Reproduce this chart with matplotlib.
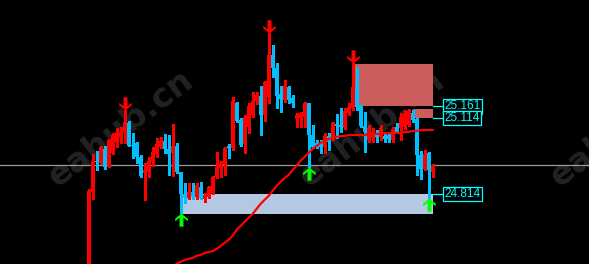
import numpy as np
import matplotlib
matplotlib.use("Agg")
import matplotlib.pyplot as plt
from matplotlib.patches import Rectangle
from matplotlib.path import Path

# OHLC (one bar every 4 px)
opens = [24.435, 24.822, 24.945, 24.937, 24.992, 24.921, 24.976, 25.020, 25.039, 25.059,
         25.095, 25.008, 25.016, 24.960, 24.897, 24.901, 24.941, 24.972, 25.000, 25.023,
         24.992, 24.976, 25.004, 24.901, 24.814, 24.799, 24.822, 24.802, 24.842, 24.795,
         24.802, 24.818, 24.881, 24.917, 24.929, 25.004, 24.996, 25.173, 25.106, 25.012,
         25.079, 25.126, 25.181, 25.201, 25.126, 25.197, 25.363, 25.312, 25.209, 25.185,
         25.237, 25.193, 25.110, 25.114, 25.118, 25.173, 25.047, 25.016, 25.012, 25.000,
         25.043, 25.035, 25.091, 25.087, 25.075, 25.134, 25.154, 25.237, 25.162, 25.083,
         25.027, 25.035, 25.047, 25.039, 25.043, 25.047, 25.027, 25.079, 25.075, 25.079,
         25.087, 25.134, 25.110, 24.968, 24.913, 24.976, 24.901]
highs = [24.834, 24.972, 24.984, 25.004, 25.004, 25.031, 25.055, 25.075, 25.079, 25.146,
         25.102, 25.055, 25.020, 24.968, 24.937, 24.960, 25.000, 25.035, 25.039, 25.051,
         25.047, 25.091, 25.016, 24.901, 24.858, 24.858, 24.858, 24.858, 24.862, 24.818,
         24.846, 24.885, 24.980, 24.945, 25.000, 25.012, 25.197, 25.177, 25.114, 25.126,
         25.173, 25.217, 25.217, 25.241, 25.260, 25.450, 25.402, 25.331, 25.241, 25.264,
         25.241, 25.205, 25.134, 25.138, 25.177, 25.173, 25.087, 25.027, 25.027, 25.055,
         25.055, 25.098, 25.130, 25.154, 25.154, 25.173, 25.331, 25.316, 25.166, 25.138,
         25.087, 25.075, 25.067, 25.087, 25.055, 25.055, 25.079, 25.095, 25.134, 25.146,
         25.150, 25.146, 25.114, 24.984, 24.988, 24.980, 24.933]
lows = [24.416, 24.795, 24.909, 24.933, 24.913, 24.921, 24.972, 25.000, 25.016, 25.016,
        25.004, 24.956, 24.937, 24.881, 24.791, 24.881, 24.925, 24.960, 24.996, 24.976,
        24.889, 24.885, 24.897, 24.739, 24.779, 24.795, 24.795, 24.795, 24.795, 24.783,
        24.799, 24.814, 24.877, 24.881, 24.889, 24.956, 24.988, 25.098, 25.004, 24.976,
        25.055, 25.118, 25.170, 25.047, 25.102, 25.173, 25.276, 25.154, 25.138, 25.177,
        25.173, 25.158, 25.079, 25.079, 25.079, 24.921, 24.996, 24.996, 24.976, 24.976,
        24.988, 25.027, 25.035, 25.059, 25.071, 25.126, 25.146, 25.146, 25.079, 24.980,
        25.020, 25.020, 25.020, 25.027, 25.020, 25.020, 25.020, 25.055, 25.027, 25.071,
        25.083, 25.098, 24.889, 24.873, 24.909, 24.799, 24.881]
closes = [24.826, 24.945, 24.941, 25.000, 24.921, 25.027, 25.047, 25.059, 25.059, 25.098,
          25.004, 25.004, 24.960, 24.885, 24.909, 24.945, 24.980, 25.012, 25.023, 24.992,
          24.972, 25.004, 24.901, 24.814, 24.799, 24.822, 24.802, 24.850, 24.799, 24.810,
          24.842, 24.881, 24.921, 24.937, 24.996, 24.996, 25.181, 25.102, 25.008, 25.118,
          25.162, 25.181, 25.205, 25.126, 25.256, 25.363, 25.312, 25.201, 25.189, 25.241,
          25.185, 25.173, 25.126, 25.130, 25.173, 25.047, 25.000, 25.000, 25.000, 25.043,
          25.020, 25.095, 25.083, 25.079, 25.142, 25.158, 25.237, 25.158, 25.083, 25.059,
          25.075, 25.059, 25.039, 25.075, 25.031, 25.031, 25.071, 25.059, 25.118, 25.130,
          25.142, 25.106, 24.968, 24.913, 24.972, 24.909, 24.929]

# moving average (starts below the visible range)
ma = [np.nan] * 21 + [
    24.525, 24.538, 24.546, 24.554, 24.558, 24.562, 24.570, 24.574, 24.581, 24.585,
    24.589, 24.597, 24.609, 24.621, 24.633, 24.649, 24.672, 24.688, 24.704, 24.720,
    24.735, 24.755, 24.775, 24.791, 24.806, 24.826, 24.846, 24.862, 24.877, 24.889,
    24.909, 24.925, 24.945, 24.960, 24.976, 24.992, 25.004, 25.016, 25.023, 25.031,
    25.035, 25.039, 25.043, 25.043, 25.047, 25.047, 25.047, 25.047, 25.047, 25.051,
    25.051, 25.051, 25.051, 25.055, 25.055, 25.055, 25.055, 25.055, 25.059, 25.059,
    25.063, 25.063, 25.067, 25.067, 25.067, 25.067]

sell_signals = [9, 45, 66]
buy_signals = [23, 55, 85]

# zones: (start bar, end bar, bottom, top)
sell_zones = [(66, 86, 25.161, 25.327), (81, 86, 25.114, 25.150)]
buy_zones = [(23, 86, 24.735, 24.814)]
levels = [25.161, 25.114, 24.814]

BULL = "#ff0000"
BEAR = "#00bfff"

fig = plt.figure(figsize=(5.89, 2.64), dpi=100, facecolor="black")
ax = fig.add_axes([0, 0, 1, 1])
ax.set_facecolor("black")
ax.set_xlim(-22.125, 125.125)
ax.set_ylim(24.538, 25.580)
ax.axis("off")

# watermark
for xc in [0.205, 0.632, 1.058]:
    ax.text(xc, 0.515, "eahub.cn", transform=ax.transAxes, rotation=37,
            ha="center", va="center", fontsize=24, fontweight="bold",
            color="#222222", zorder=0)

for s, e, lo, hi in sell_zones:
    ax.add_patch(Rectangle((s, lo), e - s, hi - lo, facecolor="#cd5c5c",
                           edgecolor="none", zorder=1))
for s, e, lo, hi in buy_zones:
    ax.add_patch(Rectangle((s, lo), e - s, hi - lo, facecolor="#b4c8e2",
                           edgecolor="none", zorder=1))

# current price line
ax.axhline(closes[-1], color="#9a9aa0", lw=0.9, zorder=1.5)

x = np.arange(len(opens))
o = np.array(opens)
c = np.array(closes)
colors = [BULL if cc >= oo else BEAR for oo, cc in zip(o, c)]
ax.vlines(x, lows, highs, colors=colors, lw=0.75, zorder=2, antialiased=False)
heights = np.maximum(np.abs(c - o), 0.004)
ax.bar(x, heights, bottom=np.minimum(o, c), width=0.6, color=colors,
       linewidth=0, zorder=3, antialiased=False)

ax.plot(x, ma, color="#ff0000", lw=1.6, zorder=4)

# arrow markers, tip at origin
down = Path([(0, 0), (0.48, 0.40), (0.48, 0.58), (0.15, 0.33), (0.15, 1.0),
             (-0.15, 1.0), (-0.15, 0.33), (-0.48, 0.58), (-0.48, 0.40), (0, 0)],
            [Path.MOVETO] + [Path.LINETO] * 8 + [Path.CLOSEPOLY])
up = Path(down.vertices * [1, -1], down.codes)
ax.plot(sell_signals, [highs[i] for i in sell_signals], ls="none", marker=down,
        ms=19, color="#ff0000", mec="none", zorder=5)
ax.plot(buy_signals, [lows[i] for i in buy_signals], ls="none", marker=up,
        ms=19, color="#00ff00", mec="none", zorder=5)

for lv in levels:
    ax.plot([86.1, 88.6], [lv, lv], color="#00ffff", lw=0.9, zorder=5)
    ax.text(89.0, lv, f"{lv:.3f}", ha="left", va="center", color="#00ffff",
            family="Liberation Sans", fontsize=8.5, zorder=6,
            bbox=dict(boxstyle="square,pad=0.12", fc="black", ec="#00ffff", lw=0.9))

fig.savefig("out.png", dpi=100, facecolor="black")
